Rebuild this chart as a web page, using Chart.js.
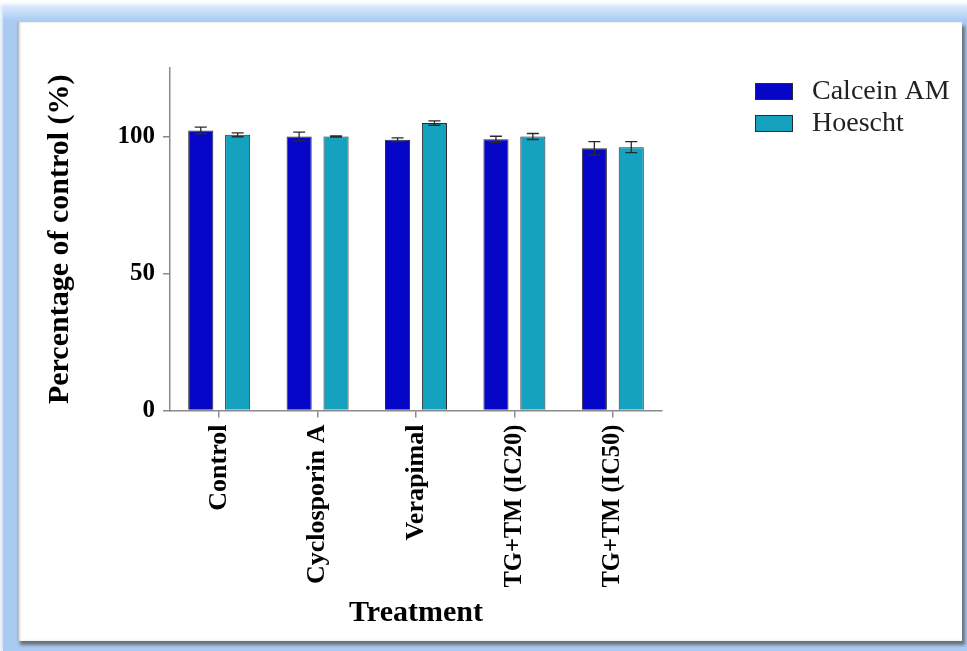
<!DOCTYPE html>
<html>
<head>
<meta charset="utf-8">
<script src="https://cdn.jsdelivr.net/npm/chart.js@4.4.1/dist/chart.umd.min.js"></script>
<style>
  html, body { margin: 0; padding: 0; background: #ffffff; overflow: hidden; }
  #stage { position: relative; width: 967px; height: 651px; }
  .glow {
    position: absolute; left: 3px; top: 7px; width: 964px; height: 644px;
    background: linear-gradient(to bottom, #d6e7fb 0px, #a9caf3 14px, #a9caf3 100%);
    box-shadow: 0 0 4px 2px rgba(170,203,243,0.6);
  }
  .panel {
    position: absolute; left: 17px; top: 22px; width: 945px; height: 619px;
    background: #ffffff;
    box-shadow: inset 3px 0 3px -1px rgba(90,90,90,0.55), 3px 4px 3px rgba(90,90,90,0.8);
  }
  canvas { position: absolute; left: 0; top: 0; }
</style>
</head>
<body>
<div id="stage">
  <div class="glow"></div>
  <div class="panel"></div>
  <canvas id="chart" width="967" height="651"></canvas>
</div>
<script>
// Treatments and measured viability (% of control) with error margins
const categories = ['Control', 'Cyclosporin A', 'Verapimal', 'TG+TM (IC20)', 'TG+TM (IC50)'];
const calceinAM = [102.2, 100.0, 98.8, 99.0, 95.7];
const calceinErr = [1.2, 1.6, 0.7, 1.1, 2.4];
const hoescht = [100.6, 100.0, 104.9, 100.0, 96.1];
const hoeschtErr = [0.7, 0.2, 0.8, 1.1, 2.0];
const yTicks = [0, 50, 100];
const seriesNames = ['Calcein AM', 'Hoescht'];
const seriesColors = ['#0606c8', '#14a2bf'];

const SERIF = "'Liberation Serif', 'Times New Roman', serif";
const AXIS_GREY = '#8a8a8a';

// Draws the +/- error whiskers on top of each bar
const errorBars = {
  id: 'errorBars',
  afterDatasetsDraw(chart) {
    const ctx = chart.ctx;
    const yScale = chart.scales.y;
    chart.data.datasets.forEach((ds, i) => {
      const meta = chart.getDatasetMeta(i);
      meta.data.forEach((bar, j) => {
        const v = ds.data[j];
        const e = ds.errors[j];
        const yTop = yScale.getPixelForValue(v + e);
        const yBot = yScale.getPixelForValue(v - e);
        const x = bar.x;
        const half = 6;
        ctx.save();
        ctx.strokeStyle = '#2b2b2b';
        ctx.lineWidth = 1.3;
        ctx.beginPath();
        ctx.moveTo(x, yTop); ctx.lineTo(x, yBot);
        ctx.moveTo(x - half, yTop); ctx.lineTo(x + half, yTop);
        ctx.moveTo(x - half, yBot); ctx.lineTo(x + half, yBot);
        ctx.stroke();
        ctx.restore();
      });
    });
  }
};

// Legend drawn at the top right, outside the plot
const sideLegend = {
  id: 'sideLegend',
  afterDraw(chart) {
    const ctx = chart.ctx;
    ctx.save();
    chart.data.datasets.forEach((ds, i) => {
      const by = 83 + i * 32;
      ctx.fillStyle = ds.backgroundColor;
      ctx.fillRect(755, by, 38, 17);
      ctx.strokeStyle = '#2b2b2b';
      ctx.lineWidth = 1;
      ctx.strokeRect(755.5, by + 0.5, 37, 16);
      ctx.fillStyle = '#222222';
      ctx.font = '28px ' + SERIF;
      ctx.textBaseline = 'middle';
      ctx.textAlign = 'left';
      ctx.fillText(ds.label, 812, by + 9);
    });
    ctx.restore();
  }
};

new Chart(document.getElementById('chart'), {
  type: 'bar',
  data: {
    labels: categories,
    datasets: [
      {
        label: seriesNames[0], data: calceinAM, errors: calceinErr,
        backgroundColor: seriesColors[0], borderColor: '#2b2b2b', borderWidth: 1,
        categoryPercentage: 0.75, barPercentage: 0.68
      },
      {
        label: seriesNames[1], data: hoescht, errors: hoeschtErr,
        backgroundColor: seriesColors[1], borderColor: '#2b2b2b', borderWidth: 1,
        categoryPercentage: 0.75, barPercentage: 0.68
      }
    ]
  },
  options: {
    responsive: false,
    animation: false,
    layout: { padding: { top: 68, right: 305, left: 0, bottom: 0 } },
    plugins: {
      legend: { display: false },
      tooltip: { enabled: false }
    },
    scales: {
      x: {
        offset: true,
        grid: { display: true, drawOnChartArea: false, drawTicks: true, tickLength: 7, offset: false, color: AXIS_GREY, lineWidth: 1.5 },
        border: { display: true, color: AXIS_GREY, width: 1.5 },
        ticks: {
          color: '#000000', padding: 7, minRotation: 90, maxRotation: 90, autoSkip: false,
          // the two combination labels are set a touch smaller
          font: (c) => ({ family: SERIF, size: c.index >= 3 ? 24.5 : 26, weight: 'bold' })
        },
        title: {
          display: true, text: 'Treatment', color: '#000000',
          font: { family: SERIF, size: 30, weight: 'bold' },
          padding: { top: 0, bottom: 20 }
        },
        afterFit(scale) { scale.height = 240.5; }
      },
      y: {
        min: 0, max: 125,
        grid: { display: true, drawOnChartArea: false, drawTicks: true, tickLength: 7, color: AXIS_GREY, lineWidth: 1.5 },
        border: { display: true, color: AXIS_GREY, width: 1.5 },
        afterBuildTicks(scale) { scale.ticks = yTicks.map(v => ({ value: v })); },
        ticks: {
          color: '#000000', padding: 8,
          font: { family: SERIF, size: 25, weight: 'bold' }
        },
        title: {
          display: true, text: 'Percentage of control (%)', color: '#000000',
          font: { family: SERIF, size: 30, weight: 'bold' },
          padding: { top: 42, bottom: 0 }
        },
        afterFit(scale) { scale.width = 170; }
      }
    }
  },
  plugins: [errorBars, sideLegend]
});
</script>
</body>
</html>
